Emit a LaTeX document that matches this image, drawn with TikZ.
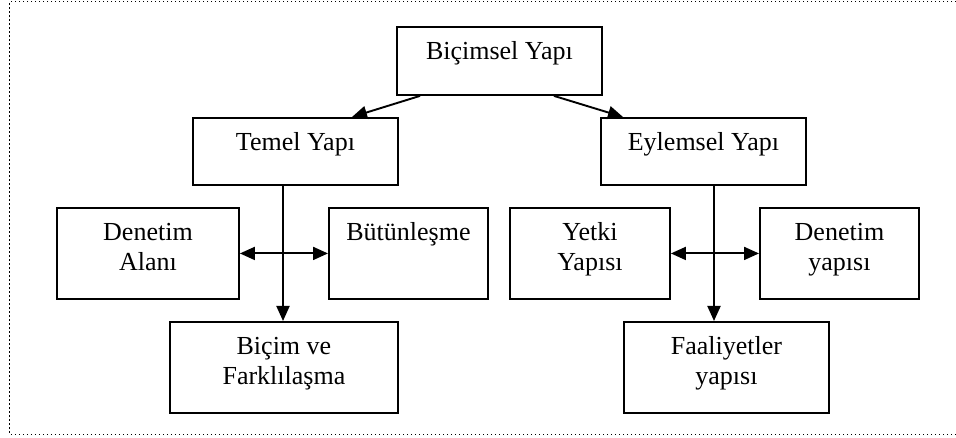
\documentclass[tikz,border=0pt]{standalone}
\usepackage{fontspec}
\setmainfont{Liberation Serif}
\usetikzlibrary{arrows.meta}
\tikzset{
  boxnode/.style={draw, line width=1.9pt, inner sep=0pt, anchor=north west, font=\fontsize{26}{30}\selectfont},
  conn/.style={line width=1.9pt, -{Triangle[length=15pt,width=13pt]}},
  dconn/.style={line width=1.9pt, {Triangle[length=15pt,width=13pt]}-{Triangle[length=15pt,width=13pt]}},
  frame/.style={line width=1pt, dash pattern=on 1.2pt off 2.8pt}
}
\newcommand{\boxtext}[3]{\parbox[t][#2pt][t]{#1pt}{\centering\rule{0pt}{33pt}#3}}
\begin{document}
\begin{tikzpicture}[x=1pt,y=-1pt]
\useasboundingbox (0,0) rectangle (956,438);
\draw[frame] (956,2) -- (9.5,2) -- (9.5,434) -- (956,434);

\node[boxnode] (bicimsel) at (396,26) {\boxtext{205}{68}{Biçimsel Yapı}};
\node[boxnode] (temel) at (192,117) {\boxtext{205}{67}{Temel Yapı}};
\node[boxnode] (eylemsel) at (600,117) {\boxtext{205}{67}{Eylemsel Yapı}};

\node[boxnode] (denetimalani) at (56,207) {\boxtext{182}{91}{Denetim\\Alanı}};
\node[boxnode] (butun) at (328,207) {\boxtext{159}{91}{Bütünleşme}};
\node[boxnode] (bicim) at (169,321) {\boxtext{228}{91}{Biçim ve\\Farklılaşma}};

\node[boxnode] (yetki) at (509,207) {\boxtext{160}{91}{Yetki\\Yapısı}};
\node[boxnode] (denetimyapisi) at (759,207) {\boxtext{159}{91}{Denetim\\yapısı}};
\node[boxnode] (faaliyet) at (623,321) {\boxtext{205}{91}{Faaliyetler\\yapısı}};

\draw[conn] ([xshift=24pt]bicimsel.south west) -- ([xshift=160pt]temel.north west);
\draw[conn] ([xshift=158pt]bicimsel.south west) -- ([xshift=23pt]eylemsel.north west);

\draw[conn] ([xshift=91pt]temel.south west) -- ([xshift=114pt]bicim.north west);
\draw[conn] ([xshift=114pt]eylemsel.south west) -- ([xshift=91pt]faaliyet.north west);

\draw[dconn] (denetimalani.east) -- (butun.west);
\draw[dconn] (yetki.east) -- (denetimyapisi.west);
\end{tikzpicture}
\end{document}
